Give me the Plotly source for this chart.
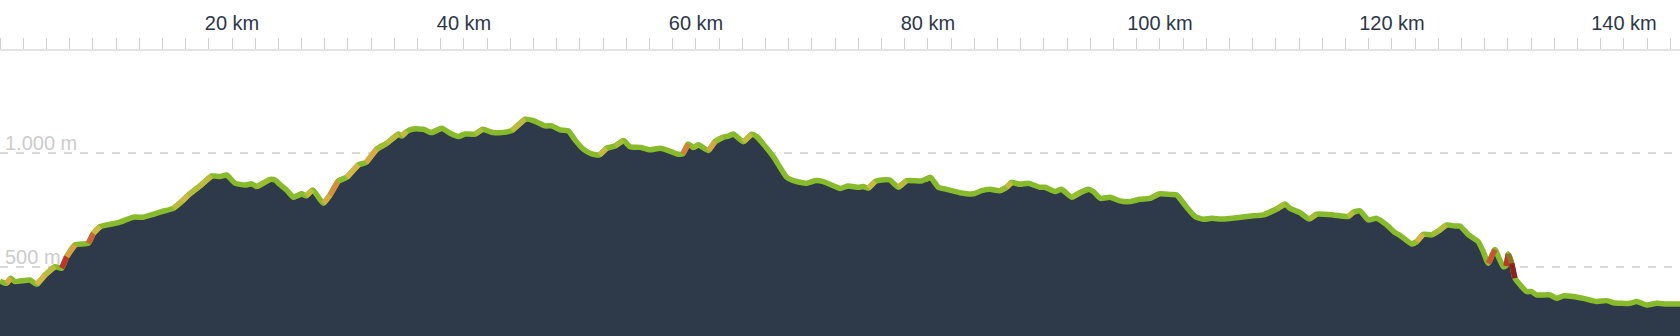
import plotly.graph_objects as go

# Distance along route (km) and elevation (m)
km = [0, 0.57, 0.92, 1.29, 2.59, 3.16, 3.88, 4.74, 5.32, 5.75, 6.47, 7.61, 8.05, 8.62, 10.2, 11.49, 12.36, 13.22, 13.94, 14.94,
      15.66, 16.24, 17.24, 18.25, 18.97, 19.54, 20.26, 21.12, 21.7, 22.13, 23.28, 23.71, 24.14,
      24.71, 25.29, 26.01, 26.38, 26.96, 27.88, 28.45, 29.17, 29.89, 30.89, 31.55, 32.47, 33.34, 34.34, 34.63, 35.06, 35.63,
      36.5, 37.21, 38.08, 38.8, 39.51, 40.09, 40.95, 41.61, 42.39, 43.25, 44.11, 44.69, 45.26, 45.98, 46.99, 47.56, 48.28,
      49.0, 49.57, 50.29, 51.01, 51.67, 52.3, 53.02, 53.74, 54.31, 55.18, 56.04, 56.9, 57.62, 58.34, 58.85, 59.34, 59.77,
      60.21, 61.07, 61.64, 62.36, 62.79, 63.22, 64.08, 64.8, 65.23, 66.67, 67.82, 68.39, 69.54, 70.26, 70.98, 72.42,
      73.13, 73.99, 74.42, 74.85, 75.43, 76.0, 76.72, 77.44, 78.16, 79.45, 79.82, 80.23, 80.89, 81.61, 82.76, 83.9, 84.62,
      85.34, 86.2, 86.78, 87.21, 87.93, 88.65, 89.65, 90.08, 90.95, 91.52, 92.38, 93.1, 93.82, 94.25, 94.88, 95.69, 96.55,
      97.41, 98.27, 99.14, 99.94, 101.0, 101.44, 102.3, 103.02, 103.73, 104.45, 105.46, 106.61, 108.04, 108.91, 110.06,
      110.77, 111.21, 112.07, 112.87, 113.5, 114.94, 116.23, 116.67, 117.24, 117.96, 118.68, 119.54, 120.26, 120.69,
      121.7, 122.13, 122.7, 123.42, 124.0, 124.71, 125.43, 125.86, 126.6, 127.44, 127.87, 128.3, 128.88, 129.31, 129.6,
      129.83, 130.03, 130.32, 130.6, 131.18, 131.61, 132.04, 132.47, 133.62, 134.2, 134.77, 135.63, 136.49, 137.64, 138.51,
      139.08, 140.52, 141.09, 141.95, 142.82, 143.68, 144.83]

elev = [437, 426, 449, 434, 441, 422, 463, 500, 493, 544, 596, 603, 647, 676, 694, 718, 718, 731, 743, 757,
        787, 816, 856, 900, 897, 904, 868, 860, 865, 853, 885, 882, 862,
        838, 806, 821, 812, 838, 779, 816, 878, 894, 949, 959, 1018, 1044, 1085, 1076, 1096, 1107,
        1106, 1091, 1110, 1088, 1074, 1085, 1084, 1106, 1093, 1091, 1100, 1125, 1150, 1144, 1121, 1121, 1103,
        1099, 1059, 1018, 997, 993, 1022, 1032, 1056, 1029, 1026, 1015, 1022, 1012, 997, 997, 1041, 1025,
        1037, 1012, 1051, 1071, 1076, 1085, 1051, 1084, 1074, 985, 894, 879, 868, 879, 875, 845,
        856, 850, 853, 846, 875, 882, 882, 850, 879, 878, 885, 894, 850, 841, 826, 821, 835,
        841, 835, 850, 871, 863, 868, 850, 850, 831, 841, 806, 826, 841, 831, 801, 806, 790,
        787, 797, 801, 821, 818, 816, 762, 721, 709, 713, 710, 716, 724, 728, 754,
        776, 757, 738, 710, 731, 728, 721, 740, 746, 706, 713, 684, 650, 638,
        600, 610, 643, 640, 657, 684, 679, 679, 640, 610, 566, 515, 575, 528, 500,
        503, 556, 515, 449, 412, 390, 390, 375, 375, 360, 371, 368, 360, 346, 350,
        341, 338, 346, 331, 338, 335, 335]

tick_km = [20, 40, 60, 80, 100, 120, 140]
tick_labels = ["20 km", "40 km", "60 km", "80 km", "100 km", "120 km", "140 km"]
grid_m = [500, 1000]
grid_labels = ["500 m", "1.000 m"]

assert len(km) == len(elev)

GREEN = (136, 187, 44)
UP_STOPS = [(0.02, GREEN), (0.035, (170, 190, 55)), (0.055, (212, 184, 70)),
            (0.085, (214, 145, 60)), (0.115, (192, 52, 40))]
DOWN_STOPS = [(0.125, GREEN), (0.16, (142, 32, 32))]


def ramp(v, stops):
    if v <= stops[0][0]:
        return None
    for (a, ca), (b, cb) in zip(stops, stops[1:]):
        if v <= b:
            t = (v - a) / (b - a)
            return tuple(int(round(ca[k] + (cb[k] - ca[k]) * t)) for k in range(3))
    return stops[-1][1]


def seg_color(s):
    if s >= 0:
        return ramp(s, UP_STOPS)
    return ramp(-s, DOWN_STOPS)


LW = 5.5
fig = go.Figure()
fig.add_trace(go.Scatter(x=km, y=elev, mode="lines", fill="tozeroy",
                         fillcolor="#2e3a4a", line=dict(width=0, color="#2e3a4a", shape="spline", smoothing=0.5),
                         hoverinfo="skip"))
fig.add_trace(go.Scatter(x=km, y=elev, mode="lines",
                         line=dict(width=LW, color="rgb(%d,%d,%d)" % GREEN, shape="spline", smoothing=0.5),
                         hoverinfo="skip"))

for i in range(len(km) - 1):
    s = (elev[i + 1] - elev[i]) / ((km[i + 1] - km[i]) * 1000.0)
    c = seg_color(s)
    if c is None:
        continue
    fig.add_trace(go.Scatter(x=[km[i], km[i + 1]], y=[elev[i], elev[i + 1]], mode="lines",
                             line=dict(width=LW, color="rgb(%d,%d,%d)" % c),
                             hoverinfo="skip"))

for v, t in zip(grid_m, grid_labels):
    fig.add_annotation(x=0, xref="paper", y=v, yref="y", text=t, showarrow=False,
                       xanchor="left", yanchor="bottom", xshift=3, yshift=-3,
                       font=dict(family="Liberation Sans, Arial, sans-serif", size=20, color="#cccccc"))

fig.update_layout(
    width=1680, height=336,
    margin=dict(l=0, r=0, t=51, b=0),
    paper_bgcolor="white", plot_bgcolor="white",
    showlegend=False,
    font=dict(family="Liberation Sans, Arial, sans-serif"),
    xaxis=dict(
        range=[0, 144.83], side="top",
        tickmode="array", tickvals=tick_km, ticktext=tick_labels,
        ticks="outside", ticklen=11, tickwidth=1, tickcolor="#cfcfcf",
        tickfont=dict(size=20, color="#2d3748"),
        showline=True, linecolor="#e3e3e3", linewidth=2,
        showgrid=False, zeroline=False,
        minor=dict(tickmode="linear", tick0=0, dtick=2, ticks="outside",
                   ticklen=11, tickwidth=1, tickcolor="#cfcfcf", showgrid=False),
    ),
    yaxis=dict(
        range=[194, 1451], tickmode="array", tickvals=grid_m,
        showticklabels=False, ticks="",
        showgrid=True, gridcolor="#d9d9d9", gridwidth=2, griddash="8px,8px",
        zeroline=False, showline=False,
    ),
)

fig.write_html("out.html")
